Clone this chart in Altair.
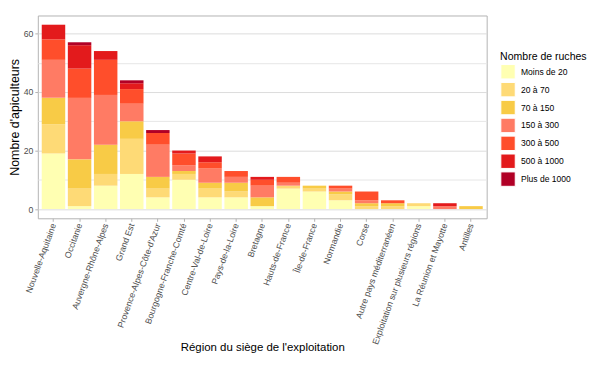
import altair as alt
import pandas as pd

regions = [
    "Nouvelle-Aquitaine", "Occitanie", "Auvergne-Rhône-Alpes", "Grand Est",
    "Provence-Alpes-Côte-d'Azur", "Bourgogne-Franche-Comté", "Centre-Val-de-Loire",
    "Pays-de-la-Loire", "Bretagne", "Hauts-de-France", "Île-de-France", "Normandie",
    "Corse", "Autre pays méditerranéen", "Exploitation sur plusieurs régions",
    "La Réunion et Mayotte", "Antilles",
]
classes = ["Moins de 20", "20 à 70", "70 à 150", "150 à 300", "300 à 500", "500 à 1000", "Plus de 1000"]
colors = ["#FFFFB2", "#FEDA76", "#F8CB46", "#FF7B64", "#FF4E2B", "#E31A1C", "#B10026"]

moins_20   = [19, 1, 8, 12, 4, 10, 4, 4, 1, 7, 6, 3, 0, 0, 1, 0, 0]
de_20_70   = [10, 6, 4, 12, 3, 2, 3, 2, 0, 1, 1, 2, 1, 1, 1, 0, 0]
de_70_150  = [9, 10, 10, 6, 4, 1, 2, 3, 3, 0, 1, 1, 1, 1, 0, 0, 1]
de_150_300 = [13, 21, 17, 6, 11, 2, 5, 2, 4, 1, 0, 1, 1, 0, 0, 1, 0]
de_300_500 = [7, 10, 12, 5, 4, 4, 2, 2, 2, 2, 0, 1, 3, 1, 0, 0, 0]
de_500_1000 = [5, 8, 3, 2, 0, 1, 2, 0, 1, 0, 0, 0, 0, 0, 0, 1, 0]
plus_1000  = [0, 1, 0, 1, 1, 0, 0, 0, 0, 0, 0, 0, 0, 0, 0, 0, 0]

series = [moins_20, de_20_70, de_70_150, de_150_300, de_300_500, de_500_1000, plus_1000]

rows = []
for ci, (cls, vals) in enumerate(zip(classes, series)):
    for r, v in zip(regions, vals):
        rows.append({"region": r, "classe": cls, "ordre": ci, "n": v})
df = pd.DataFrame(rows)

FONT = "Liberation Sans"

chart = alt.Chart(df).mark_bar().encode(
    x=alt.X(
        "region:N",
        sort=regions,
        scale=alt.Scale(paddingInner=0.1, paddingOuter=0.15),
        axis=alt.Axis(
            title="Région du siège de l'exploitation",
            labelAngle=290,
            labelAlign="right",
            labelBaseline="middle",
            labelFontSize=8.8,
            labelColor="#4D4D4D",
            labelPadding=2,
            domain=False,
            ticks=True,
            tickColor="#B3B3B3",
            tickSize=3,
            grid=False,
            titleFontSize=11.5,
            titleFontWeight="normal",
            titleColor="#000000",
            titleY=130,
            titleBaseline="middle",
        ),
    ),
    y=alt.Y(
        "sum(n):Q",
        stack="zero",
        scale=alt.Scale(domain=[-3.15, 66.15], nice=False, zero=False),
        axis=alt.Axis(
            title="Nombre d'apiculteurs",
            values=[0, 10, 20, 30, 40, 50, 60],
            labelExpr="datum.value % 20 == 0 ? datum.label : ''",
            labelFontSize=8.8,
            labelColor="#4D4D4D",
            labelPadding=2,
            domain=False,
            tickSize=3,
            tickColor={"condition": {"test": "datum.value % 20 != 0", "value": "transparent"}, "value": "#B3B3B3"},
            gridColor={"condition": {"test": "datum.value % 20 != 0", "value": "#E6E6E6"}, "value": "#DCDCDC"},
            gridWidth=1,
            titleFontSize=12.5,
            titleFontWeight="normal",
            titleColor="#000000",
            titleX=-23,
            titleY=102,
            titleAngle=270,
            titleAlign="center",
            titleBaseline="middle",
        ),
    ),
    color=alt.Color(
        "classe:N",
        sort=classes,
        scale=alt.Scale(domain=classes, range=colors),
        legend=alt.Legend(
            title="Nombre de ruches",
            orient="none",
            legendX=465,
            legendY=37,
            titleFontSize=10.6,
            titleFontWeight="normal",
            titleColor="#000000",
            titlePadding=1,
            labelFontSize=8.6,
            labelColor="#000000",
            symbolType="square",
            symbolSize=210,
            symbolStrokeColor="#FFFFFF",
            symbolStrokeWidth=1,
            symbolOpacity=1,
            rowPadding=-3,
            labelOffset=5,
        ),
    ),
    order=alt.Order("ordre:Q", sort="ascending"),
).properties(
    width=451.5,
    height=204,
    autosize=alt.AutoSizeParams(type="none"),
    padding={"left": 30, "top": 6.5, "right": 112, "bottom": 140},
).configure(
    font=FONT,
).configure_view(
    stroke="#B3B3B3",
    strokeWidth=1,
    fill="#FFFFFF",
)

chart.save("out.html", embed_options={"renderer": "svg", "actions": False})
